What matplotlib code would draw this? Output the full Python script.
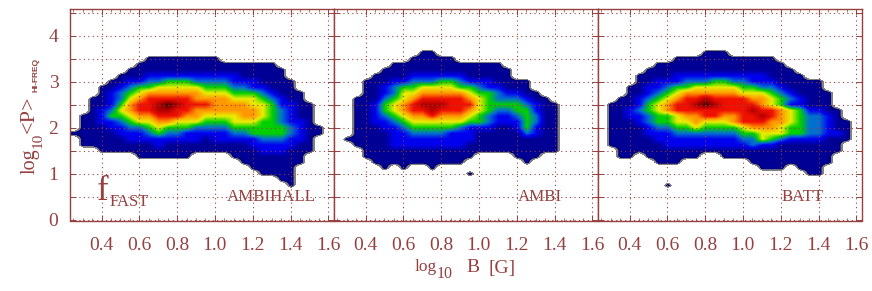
import numpy as np
import matplotlib
matplotlib.use("Agg")
import matplotlib.pyplot as plt
from matplotlib.colors import LinearSegmentedColormap
from matplotlib.ticker import MultipleLocator

plt.rcParams['font.family'] = ['Liberation Serif', 'DejaVu Serif']
RED = '#964040'

x_cols = [0.25 + 0.05 * i for i in range(28)]
y_rows = [3.75, 3.625, 3.5, 3.375, 3.25, 3.125, 3.0, 2.875, 2.75, 2.625, 2.5, 2.375, 2.25,
          2.125, 2.0, 1.875, 1.75, 1.625, 1.5, 1.375, 1.25, 1.125, 1.0, 0.875, 0.75, 0.625]

ambihall = [
    "0",
    "0",
    "0000000011111111",
    "0000000111111111111111",
    "00000011111111111111111",
    "00000111222222222211111",
    "000011223344433332221111",
    "000112344555554443322111",
    "0001234566666655544432111",
    "0011235677777666655543211",
    "00112467789877766665542211",
    "00123567788776666666543211",
    "01124456677766555566543211",
    "01122345566555444555443221",
    "011122334544433334444443211",
    "111112223433222223344443211",
    "01111122222222122222333221",
    "01111111121111111112222211",
    "00011111111111111111222111",
    "0000000111111000011111111",
    "0000000000000000001111111",
    "000000000000000000011111",
    "000000000000000000001111",
    "000000000000000000000011",
    "000000000000000000000001",
    "0",
]
ambi = [
    "0",
    "000000000110",
    "0000000011111",
    "000000111111111111",
    "0000011111111111111",
    "0000111122222211111",
    "000111223334432221111",
    "000112344555544322111",
    "0001123556666654432211",
    "00111345677777654333211",
    "001124567888777544443211",
    "001124567787776543344211",
    "001123456676665432234311",
    "001122345555554432224311",
    "001112234444432221124211",
    "001111223333222111113211",
    "011111222222222111111111",
    "001111222222221111111111",
    "000111111111111111111111",
    "000111111111111000011100",
    "000011111111110000001",
    "000001010010",
    "000000000000001",
    "0",
    "0",
    "0",
]
batt = [
    "0",
    "00000000000111",
    "00000000111111111110",
    "00000011111111111111",
    "000001111111111111111",
    "0000111122222222221111",
    "000011222333443322211111",
    "000112234455555443321111",
    "0001123456666665554321111",
    "0011234567787777665432111",
    "0111245677898777765422111",
    "01123456777777778776542211",
    "01122344566776677876543321",
    "011123445565556777665433211",
    "011112334454444566654433211",
    "011112223333333445554433221",
    "011111222222222335432222111",
    "01111112222222223221111111",
    "00111111111111111111111111",
    "0011011111100111111111111",
    "0000001110000000111111111",
    "000000000000000001110111",
    "00000000000000000000001100",
    "0",
    "00000001",
    "0",
]
panel_names = ["AMBIHALL", "AMBI", "BATT"]
panel_data = [ambihall, ambi, batt]
panel_label_px = [227, 518, 782]

vmin, vmax = 0.55, 9.0
stops = [(0.55, '#808080'), (0.72, '#808080'), (0.8, '#000080'), (1, '#000096'), (2, '#0000f0'),
         (3, '#0070d0'), (4, '#00d000'), (5, '#e8ee00'), (6, '#ff9800'),
         (7, '#f01000'), (8, '#b00000'), (9, '#500000')]
cmap = LinearSegmentedColormap.from_list(
    'idl', [((v - vmin) / (vmax - vmin), c) for v, c in stops], N=512)
cmap.set_under((1, 1, 1, 0))

W, H = 872, 291
lefts = [69.5, 333.5, 597.5]
width = 264.2
top, bottom = 9, 220.5
x0 = 0.4 - 32.0 / 189
xlim = (x0, x0 + width / 189)
ylim = (-0.02, (220.5 - 9) / 46 - 0.02)

fig = plt.figure(figsize=(W / 100, H / 100), dpi=100)
yticks = [0, 0.5, 1, 1.5, 2, 2.5, 3, 3.5, 4, 4.5]
xticks = [0.4, 0.6, 0.8, 1.0, 1.2, 1.4, 1.6]

for left, rows in zip(lefts, panel_data):
    ax = fig.add_axes([left / W, 1 - bottom / H, width / W, (bottom - top) / H])
    grid = np.array([[int(c) for c in r.ljust(28, '0')] for r in rows], float)
    ax.imshow(grid, cmap=cmap, vmin=vmin, vmax=vmax, interpolation='bilinear', aspect='auto',
              extent=(x_cols[0] - 0.025, x_cols[-1] + 0.025, y_rows[-1] - 0.0625, y_rows[0] + 0.0625),
              zorder=1)
    ax.set_xlim(*xlim)
    ax.set_ylim(*ylim)
    ax.set_xticks(xticks)
    ax.set_xticklabels(['%.1f' % t for t in xticks], fontsize=14, color=RED)
    ax.xaxis.set_minor_locator(MultipleLocator(0.05))
    ax.grid(True, which='major', color=RED, lw=0.8, ls=(0, (1, 3)), zorder=2)
    ax.set_axisbelow(False)
    ax.tick_params(which='major', axis='both', length=4, width=0.7, color=RED, top=True, right=True, direction='in')
    ax.tick_params(which='minor', axis='x', length=2, width=0.5, color=RED, top=True, direction='in')
    ax.tick_params(axis='x', pad=12)
    ax.set_yticks(yticks)
    if left == lefts[0]:
        ax.set_yticklabels(['0', '', '1', '', '2', '', '3', '', '4', ''], fontsize=14, color=RED)
        ax.tick_params(axis='y', pad=8)
    else:
        ax.set_yticklabels([])
    for s in ax.spines.values():
        s.set_color(RED)
        s.set_linewidth(1.0)


def put(px, py, s, size, **kw):
    kw.setdefault('color', RED)
    kw.setdefault('ha', 'left')
    kw.setdefault('va', 'center')
    fig.text(px / W, 1 - py / H, s, fontsize=size, **kw)


for name, px in zip(panel_names, panel_label_px):
    put(px, 197, name, 12.2)
put(97, 191, "f", 25)
put(110, 202, "FAST", 12)

put(415, 267, "log", 12.5)
put(437, 274, "10", 11.5)
put(466, 268, "B", 14)
put(488, 268, "[G]", 14)

put(30, 174, "log", 14.5, rotation=90, ha='center', va='bottom')
put(38, 148, "10", 11, rotation=90, ha='center', va='bottom')
put(29, 133, "<P>", 16, rotation=90, ha='center', va='bottom')
put(36, 92, "HI-FREQ", 6, rotation=90, ha='center', va='bottom', family='Liberation Sans', weight='bold')

fig.savefig('out.png', dpi=100)
